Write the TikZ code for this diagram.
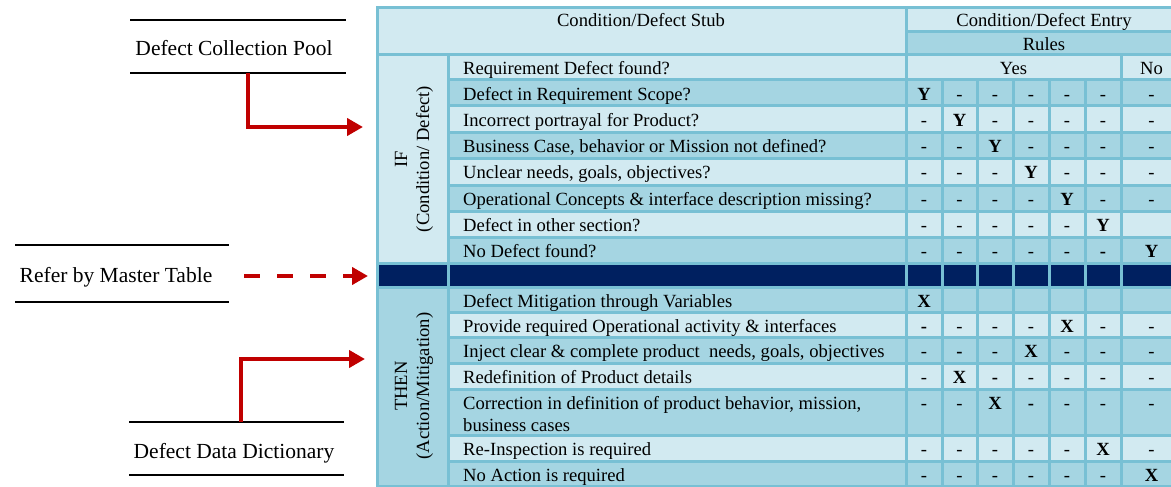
\documentclass[tikz,border=0pt]{standalone}
\usepackage{fontspec}
\setmainfont{Liberation Serif}
\usetikzlibrary{arrows.meta}
\usetikzlibrary{positioning}
\definecolor{gridline}{HTML}{78C0D4}
\definecolor{celllite}{HTML}{D2EAF1}
\definecolor{celldark}{HTML}{A5D5E2}
\definecolor{navy}{HTML}{002060}
\definecolor{darkred}{HTML}{C00000}
\tikzset{>=latex}
\tikzstyle{cell} = [draw=gridline, line width=3pt]
\tikzstyle{lite} = [cell, fill=celllite]
\tikzstyle{dark} = [cell, fill=celldark]
\tikzstyle{band} = [cell, fill=navy]
\tikzstyle{rule} = [line width=2pt, black]
\tikzstyle{label} = [font=\fontsize{21.5}{24}\selectfont, inner sep=0, anchor=base]
\tikzstyle{entry} = [font=\fontsize{18.6}{22}\selectfont, inner sep=0]
\tikzstyle{stub} = [entry, anchor=base west]
\tikzstyle{flow} = [-{Triangle[length=16pt, width=17pt]}, line width=4pt, darkred]

\begin{document}
\begin{tikzpicture}[x=1pt, y=-1pt]
\useasboundingbox (0,0) rectangle (1171,487);

% left side labels
\node [label] (pool) at (234, 56) {Defect Collection Pool};
\draw [rule] (130, 20) -- (346, 20);
\draw [rule] (130, 73) -- (346, 73);
\node [label] (master) at (116, 282) {Refer by Master Table};
\draw [rule] (15, 245) -- (229, 245);
\draw [rule] (15, 302) -- (229, 302);
\node [label] (dict) at (234, 458) {Defect Data Dictionary};
\draw [rule] (129, 422) -- (344, 422);
\draw [rule] (129, 475) -- (344, 475);

% table cells
\draw [lite] (377, 8) rectangle (906, 55);
\draw [lite] (906, 8) rectangle (1182, 32);
\draw [dark] (906, 32) rectangle (1182, 55);
\draw [lite] (377, 55) rectangle (448, 263);
\draw [dark] (377, 287) rectangle (448, 486);
\draw [lite] (448, 55) rectangle (906, 80);
\draw [lite] (906, 55) rectangle (1121, 80);
\draw [lite] (1121, 55) rectangle (1182, 80);
\foreach \ya/\yb/\shade in {80/106/dark, 106/132/lite, 132/158/dark, 158/185/lite,
  185/211/dark, 211/237/lite, 237/263/dark, 263/287/band, 287/312/dark, 312/337/lite,
  337/363/dark, 363/389/lite, 389/435/dark, 435/461/lite, 461/486/dark} {
  \draw [\shade] (448, \ya) rectangle (906, \yb);
  \foreach \xa/\xb in {906/942, 942/977, 977/1013, 1013/1049, 1049/1085, 1085/1121, 1121/1182}
    \draw [\shade] (\xa, \ya) rectangle (\xb, \yb);
}
\draw [band] (377, 263) rectangle (448, 287);

% headers
\node [entry, anchor=base] (stubhead) at (641, 27) {Condition/Defect Stub};
\node [entry, anchor=base] (entryhead) at (1044, 27) {Condition/Defect Entry};
\node [entry, anchor=base] (rules) at (1044, 51) {Rules};
\node [entry, anchor=base] (yes) at (1013.5, 75) {Yes};
\node [entry, anchor=base] (no) at (1151.5, 75) {No};
\node [entry, rotate=90, align=center] (ifcol) at (414, 159) {IF\\(Condition/ Defect)};
\node [entry, rotate=90, align=center] (thencol) at (414, 386) {THEN\\(Action/Mitigation)};

% conditions and actions
\foreach \top/\txt [count=\r] in {55/Requirement Defect found?, 80/Defect in Requirement Scope?,
  106/Incorrect portrayal for Product?, 132/{Business Case, behavior or Mission not defined?},
  158/{Unclear needs, goals, objectives?}, 185/Operational Concepts \& interface description missing?,
  211/Defect in other section?, 237/No Defect found?, 287/Defect Mitigation through Variables,
  312/Provide required Operational activity \& interfaces,
  337/{Inject clear \& complete product\ \ needs, goals, objectives},
  363/Redefinition of Product details, 435/Re-Inspection is required, 461/No Action is required}
  \node [stub] (stub\r) at (463, \top+20) {\txt};
\node [entry, anchor=north west, align=left] (stubfix) at (463, 396)
  {Correction in definition of product behavior, mission,\\business cases};

% rule marks
\foreach \top/\marks [count=\r] in {80/{\textbf{Y},-,-,-,-,-,-}, 106/{-,\textbf{Y},-,-,-,-,-},
  132/{-,-,\textbf{Y},-,-,-,-}, 158/{-,-,-,\textbf{Y},-,-,-}, 185/{-,-,-,-,\textbf{Y},-,-},
  211/{-,-,-,-,-,\textbf{Y}}, 237/{-,-,-,-,-,\textbf{-},\textbf{Y}}, 287/{\textbf{X}},
  312/{\textbf{-},-,-,-,\textbf{X},-,-}, 337/{-,\textbf{-},-,\textbf{X},-,-,-},
  363/{-,\textbf{X},\textbf{-},-,-,-,-}, 389/{-,-,\textbf{X},\textbf{-},-,-,-},
  435/{-,-,-,-,-,\textbf{X},-}, 461/{-,-,-,-,-,-,\textbf{X}}} {
  \foreach \m [count=\c] in \marks {
    \pgfmathsetmacro{\cx}{{924,959.5,995,1031,1067,1103,1151.5}[\c-1]}
    \node [entry, anchor=base] (mark-\r-\c) at (\cx, \top+20) {\m};
  }
}

% arrows into the table
\coordinate (poolout) at (248, 73);
\coordinate (ifin) at (363, 127);
\coordinate (masterout) at (244, 276);
\coordinate (bandin) at (368, 276);
\coordinate (dictout) at (240.5, 422);
\coordinate (thenin) at (365, 359);
\draw [flow] (poolout) |- (ifin);
\draw [flow, dash pattern=on 16pt off 17pt] (masterout) -- (bandin);
\draw [flow] (dictout) |- (thenin);
\end{tikzpicture}
\end{document}
